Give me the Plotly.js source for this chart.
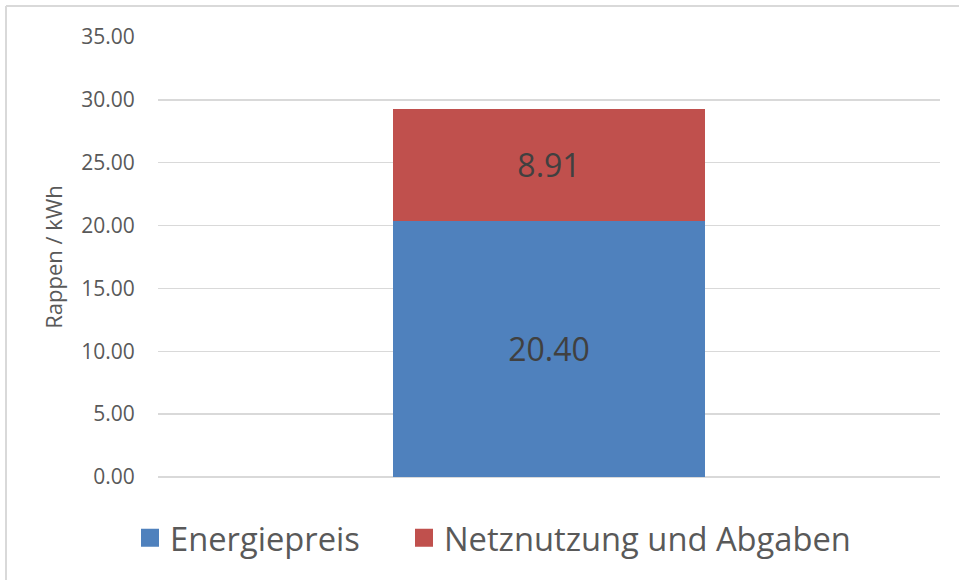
<!DOCTYPE html>
<html><head><meta charset="utf-8">
<script src="https://cdn.plot.ly/plotly-3.0.1.min.js"></script>
<style>html,body{margin:0;padding:0;background:#fff}#chart{width:959px;height:580px}</style>
</head><body><div id="chart"></div><script>
const categories = ['Strompreis'];
const seriesNames = ['Energiepreis', 'Netznutzung und Abgaben'];
const energiepreis = [20.40];
const netznutzung = [8.91];
const yTickVals = [0, 5, 10, 15, 20, 25, 30, 35];
const yTickText = ['0.00', '5.00', '10.00', '15.00', '20.00', '25.00', '30.00', '35.00'];
const colors = ['#4F81BD', '#C0504D'];

const W = 959, H = 580;
const M = {l: 158, r: 19, t: 37, b: 103};
const pw = W - M.l - M.r, ph = H - M.t - M.b;
const px = v => (v - M.l) / pw;
const py = v => (H - M.b - v) / ph;

const font = "'Segoe UI', 'Open Sans', 'Noto Sans', sans-serif";

const barTrace = (name, vals, color) => ({
  type: 'bar', name: name, x: categories, y: vals,
  marker: {color: color},
  texttemplate: '%{y:.2f}', textposition: 'inside', insidetextanchor: 'middle',
  textfont: {family: font, size: 32, color: '#404040'},
  showlegend: false, hoverinfo: 'y'
});
const legendProxy = (name, color, legendId) => ({
  type: 'scatter', mode: 'markers', name: name, x: [null], y: [null],
  marker: {symbol: 'square', size: 16, color: color, line: {color: color, width: 2}},
  showlegend: true, hoverinfo: 'skip', legend: legendId
});

const data = [
  barTrace(seriesNames[0], energiepreis, colors[0]),
  barTrace(seriesNames[1], netznutzung, colors[1]),
  legendProxy(seriesNames[0], colors[0], 'legend'),
  legendProxy(seriesNames[1], colors[1], 'legend2')
];

const legendBase = (xPix) => ({
  orientation: 'h', xref: 'paper', yref: 'paper',
  x: px(xPix), xanchor: 'left', y: py(538), yanchor: 'middle',
  font: {family: font, size: 32.7, color: '#595959'},
  itemsizing: 'trace', bgcolor: 'rgba(0,0,0,0)'
});

const layout = {
  width: W, height: H,
  margin: M,
  barmode: 'stack', bargap: 0.6,
  paper_bgcolor: '#fff', plot_bgcolor: '#fff',
  font: {family: font, color: '#595959'},
  xaxis: {type: 'category', showticklabels: false, ticks: '', showgrid: false, zeroline: false, showline: false, fixedrange: true},
  yaxis: {
    range: [0, 35], tickvals: yTickVals, ticktext: yTickText,
    tickfont: {family: font, size: 21, color: '#595959'},
    ticks: 'outside', ticklen: 18, tickcolor: 'rgba(0,0,0,0)',
    showgrid: true, gridcolor: '#d9d9d9', gridwidth: 1.3,
    zeroline: true, zerolinecolor: '#d9d9d9', zerolinewidth: 1.5,
    showline: false,
    title: {text: 'Rappen / kWh', font: {family: font, size: 22, color: '#595959'}, standoff: 12}
  },
  legend: legendBase(130),
  legend2: legendBase(404),
  shapes: [
    {type: 'line', xref: 'paper', yref: 'paper', x0: px(6), x1: px(W + 5), y0: py(6), y1: py(6), line: {color: '#d9d9d9', width: 2}},
    {type: 'line', xref: 'paper', yref: 'paper', x0: px(6), x1: px(6), y0: py(6), y1: py(H + 5), line: {color: '#d9d9d9', width: 2}}
  ]
};

Plotly.newPlot('chart', data, layout, {displayModeBar: false, staticPlot: true});
</script></body></html>
